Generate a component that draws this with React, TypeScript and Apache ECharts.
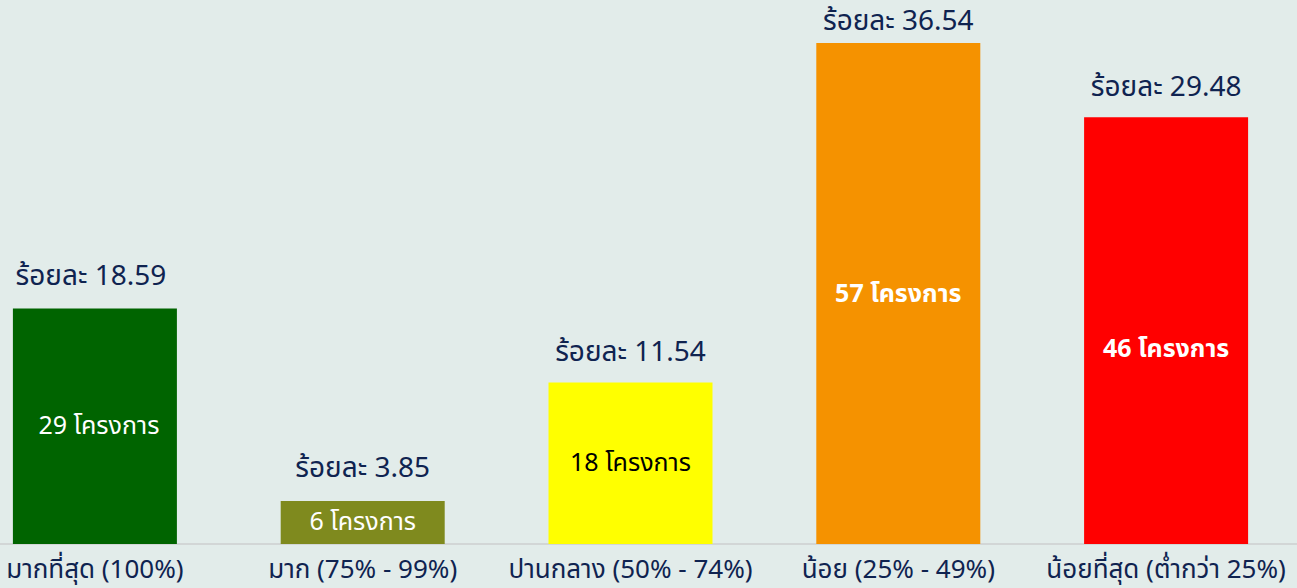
import React, { useEffect, useRef } from "react";
import * as echarts from "echarts";

const categories = [
  "มากที่สุด (100%)",
  "มาก (75% - 99%)",
  "ปานกลาง (50% - 74%)",
  "น้อย (25% - 49%)",
  "น้อยที่สุด (ต่ำกว่า 25%)",
];
// bar heights as drawn in the picture (same unit as percentages; tallest = 36.54)
const barHeights = [17.17, 3.14, 11.77, 36.54, 31.13];
const percentLabels = ["18.59", "3.85", "11.54", "36.54", "29.48"];
const projectCounts = [29, 6, 18, 57, 46];
const barColors = ["#006400", "#7f8a1e", "#ffff00", "#f59200", "#ff0000"];
const innerTextColors = ["#ffffff", "#ffffff", "#000000", "#ffffff", "#ffffff"];
const innerWeights = ["normal", "normal", "normal", "bold", "bold"];
const innerOffsets = [[4, 0], [0, 0], [0, 0], [0, 0], [0, 18]];
const topOffsets = [[-4, -2], [0, -2], [0, 0], [0, 8], [0, 0]];

const FONT = '"Noto Sans Thai", "Noto Sans", "Open Sans", sans-serif';

export default function App() {
  const ref = useRef<HTMLDivElement>(null);
  useEffect(() => {
    if (!ref.current) return;
    const chart = echarts.init(ref.current, null, { renderer: "svg" });
    chart.setOption({
      animation: false,
      backgroundColor: "#e2ecea",
      grid: { left: 0, right: 0, top: 43, bottom: 44, containLabel: false },
      xAxis: {
        type: "category",
        data: categories,
        axisLine: { lineStyle: { color: "#d2d6d6", width: 2 } },
        axisTick: { show: false },
        axisLabel: {
          interval: 0,
          margin: 13,
          lineHeight: 26,
          color: "#0f2350",
          fontSize: 26,
          fontFamily: FONT,
        },
      },
      yAxis: {
        type: "value",
        min: 0,
        max: 36.54,
        show: false,
        splitLine: { show: false },
      },
      series: [
        {
          type: "bar",
          barWidth: 164,
          data: barHeights.map((v, i) => ({
            value: v,
            itemStyle: { color: barColors[i] },
            label: { offset: topOffsets[i] },
          })),
          label: {
            show: true,
            position: "top",
            distance: 16,
            color: "#0f2350",
            fontSize: 28,
            fontFamily: FONT,
            formatter: (p: any) => "ร้อยละ " + percentLabels[p.dataIndex],
          },
        },
        {
          type: "bar",
          barWidth: 164,
          barGap: "-100%",
          silent: true,
          data: barHeights.map((v, i) => ({
            value: v,
            itemStyle: { color: "transparent" },
            label: {
              color: innerTextColors[i],
              fontWeight: innerWeights[i],
              offset: innerOffsets[i],
            },
          })),
          label: {
            show: true,
            position: "inside",
            fontSize: 25,
            fontFamily: FONT,
            formatter: (p: any) => projectCounts[p.dataIndex] + " โครงการ",
          },
        },
      ],
    });
    return () => chart.dispose();
  }, []);
  return (
    <div
      style={{
        position: "absolute",
        left: 0,
        top: 0,
        width: 1297,
        height: 588,
        overflow: "hidden",
        background: "#e2ecea",
      }}
    >
      <div
        ref={ref}
        style={{ position: "absolute", left: -39, top: 0, width: 1339, height: 588 }}
      />
    </div>
  );
}
